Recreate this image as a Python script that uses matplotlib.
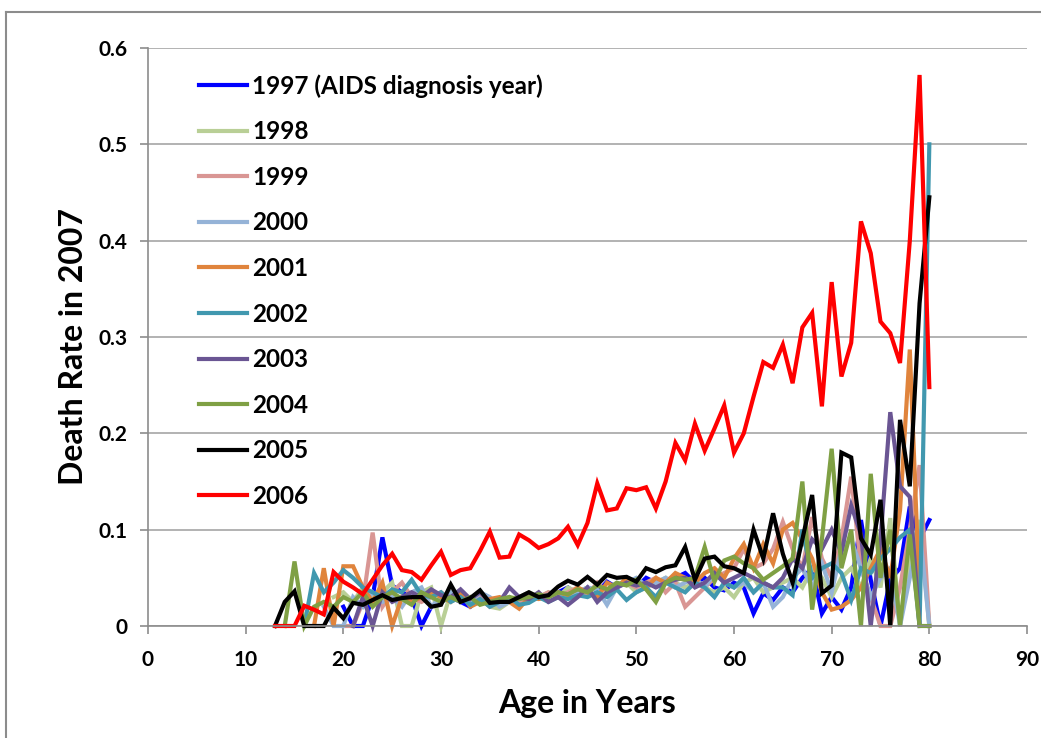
import numpy as np
import matplotlib
matplotlib.use("Agg")
import matplotlib.pyplot as plt
from matplotlib.lines import Line2D

plt.rcParams['font.family'] = ['Lato', 'DejaVu Sans']
plt.rcParams['font.weight'] = 'bold'

# Data: death rate in 2007 by age, one series per AIDS diagnosis year
labels = ["1997 (AIDS diagnosis year)", "1998", "1999", "2000", "2001",
          "2002", "2003", "2004", "2005", "2006"]
colors = ["#0000FF", "#B9CF96", "#D99694", "#95B3D7", "#E0843C",
          "#4198AF", "#6A5593", "#7FA044", "#000000", "#FF0000"]
start_ages = [20, 19, 20, 18, 17, 16, 21, 14, 13, 13]

rate_1997 = [0.02, 0.0, 0.0, 0.03, 0.092, 0.042, 0.035, 0.03, 0.0, 0.02,
             0.025, 0.03, 0.025, 0.02, 0.03, 0.025, 0.028, 0.025, 0.03, 0.028,
             0.03, 0.032, 0.035, 0.04, 0.032, 0.04, 0.035, 0.046, 0.04, 0.045,
             0.04, 0.05, 0.045, 0.048, 0.05, 0.055, 0.045, 0.05, 0.04, 0.037,
             0.045, 0.04, 0.013, 0.034, 0.027, 0.04, 0.035, 0.05, 0.06, 0.013,
             0.03, 0.017, 0.04, 0.11, 0.048, 0.0, 0.048, 0.06, 0.124, 0.09,
             0.11]
rate_1998 = [0.03, 0.035, 0.025, 0.04, 0.03, 0.035, 0.045, 0.0, 0.0, 0.035,
             0.04, 0.0, 0.035, 0.03, 0.025, 0.03, 0.02, 0.018, 0.025, 0.03,
             0.035, 0.03, 0.035, 0.03, 0.04, 0.035, 0.04, 0.03, 0.035, 0.04,
             0.045, 0.035, 0.04, 0.045, 0.05, 0.045, 0.04, 0.045, 0.04, 0.035,
             0.04, 0.03, 0.045, 0.05, 0.035, 0.04, 0.045, 0.05, 0.04, 0.06,
             0.05, 0.03, 0.05, 0.06, 0.04, 0.07, 0.04, 0.112, 0.0, 0.07,
             0.11, 0.0]
rate_1999 = [0.0, 0.0, 0.025, 0.097, 0.02, 0.035, 0.045, 0.03, 0.025, 0.03,
             0.035, 0.028, 0.03, 0.025, 0.03, 0.02, 0.025, 0.03, 0.025, 0.032,
             0.03, 0.035, 0.03, 0.035, 0.04, 0.032, 0.045, 0.035, 0.04, 0.045,
             0.04, 0.045, 0.05, 0.035, 0.045, 0.02, 0.03, 0.04, 0.05, 0.055,
             0.06, 0.08, 0.06, 0.065, 0.08, 0.108, 0.08, 0.06, 0.113, 0.07,
             0.05, 0.09, 0.155, 0.06, 0.03, 0.0, 0.0, 0.04, 0.1, 0.167,
             0.0]
rate_2000 = [0.02, 0.0, 0.0, 0.03, 0.02, 0.035, 0.025, 0.03, 0.02, 0.035,
             0.04, 0.02, 0.03, 0.035, 0.03, 0.025, 0.035, 0.03, 0.02, 0.025,
             0.03, 0.028, 0.03, 0.032, 0.035, 0.03, 0.035, 0.04, 0.038, 0.022,
             0.04, 0.045, 0.05, 0.042, 0.045, 0.05, 0.04, 0.045, 0.05, 0.04,
             0.055, 0.045, 0.04, 0.045, 0.035, 0.045, 0.02, 0.03, 0.05, 0.06,
             0.04, 0.065, 0.035, 0.08, 0.09, 0.06, 0.03, 0.05, 0.06, 0.0,
             0.05, 0.1, 0.0]
rate_2001 = [0.0, 0.06, 0.0, 0.062, 0.062, 0.04, 0.025, 0.045, 0.0, 0.03,
             0.025, 0.03, 0.035, 0.03, 0.025, 0.035, 0.02, 0.025, 0.028, 0.03,
             0.025, 0.018, 0.03, 0.028, 0.03, 0.035, 0.032, 0.04, 0.035, 0.03,
             0.045, 0.04, 0.05, 0.045, 0.04, 0.05, 0.045, 0.055, 0.05, 0.045,
             0.055, 0.06, 0.05, 0.07, 0.085, 0.06, 0.085, 0.065, 0.1, 0.107,
             0.09, 0.07, 0.035, 0.017, 0.02, 0.027, 0.04, 0.06, 0.08, 0.05,
             0.12, 0.287, 0.03]
rate_2002 = [0.0, 0.055, 0.035, 0.045, 0.058, 0.05, 0.04, 0.035, 0.03, 0.038,
             0.035, 0.048, 0.032, 0.03, 0.035, 0.025, 0.03, 0.022, 0.028, 0.02,
             0.025, 0.03, 0.022, 0.024, 0.03, 0.025, 0.03, 0.028, 0.032, 0.03,
             0.035, 0.03, 0.038, 0.027, 0.035, 0.04, 0.03, 0.045, 0.04, 0.035,
             0.045, 0.04, 0.03, 0.045, 0.04, 0.05, 0.035, 0.045, 0.04, 0.04,
             0.032, 0.1, 0.05, 0.06, 0.065, 0.055, 0.027, 0.06, 0.055, 0.07,
             0.08, 0.092, 0.1, 0.0, 0.5]
rate_2003 = [0.0, 0.03, 0.0, 0.035, 0.025, 0.03, 0.035, 0.03, 0.038, 0.032,
             0.03, 0.038, 0.028, 0.035, 0.025, 0.025, 0.04, 0.03, 0.028, 0.035,
             0.025, 0.03, 0.022, 0.03, 0.04, 0.025, 0.035, 0.04, 0.045, 0.042,
             0.045, 0.04, 0.045, 0.048, 0.05, 0.04, 0.045, 0.055, 0.045, 0.05,
             0.055, 0.05, 0.045, 0.04, 0.05, 0.07, 0.06, 0.09, 0.08, 0.1,
             0.076, 0.125, 0.095, 0.0, 0.09, 0.222, 0.145, 0.134, 0.0]
rate_2004 = [0.0, 0.067, 0.0, 0.02, 0.025, 0.02, 0.03, 0.025, 0.035, 0.02,
             0.03, 0.035, 0.028, 0.022, 0.035, 0.03, 0.025, 0.03, 0.025, 0.03,
             0.022, 0.025, 0.028, 0.03, 0.028, 0.03, 0.033, 0.03, 0.035, 0.033,
             0.038, 0.035, 0.042, 0.038, 0.045, 0.042, 0.048, 0.038, 0.025, 0.045,
             0.05, 0.048, 0.05, 0.082, 0.046, 0.068, 0.072, 0.065, 0.06, 0.048,
             0.055, 0.062, 0.07, 0.15, 0.017, 0.09, 0.184, 0.06, 0.1, 0.0,
             0.158, 0.05, 0.1, 0.0, 0.095, 0.0, 0.0]
rate_2005 = [0.0, 0.025, 0.036, 0.0, 0.0, 0.0, 0.019, 0.008, 0.024, 0.022,
             0.027, 0.032, 0.027, 0.029, 0.03, 0.03, 0.02, 0.022, 0.043, 0.025,
             0.029, 0.037, 0.024, 0.025, 0.025, 0.03, 0.035, 0.03, 0.032, 0.041,
             0.047, 0.043, 0.051, 0.043, 0.053, 0.05, 0.051, 0.046, 0.06, 0.056,
             0.061, 0.063, 0.082, 0.048, 0.07, 0.072, 0.062, 0.06, 0.055, 0.1,
             0.07, 0.117, 0.075, 0.045, 0.09, 0.136, 0.034, 0.042, 0.18, 0.175,
             0.091, 0.074, 0.131, 0.0, 0.214, 0.145, 0.335, 0.445]
rate_2006 = [0.0, 0.0, 0.0, 0.021, 0.017, 0.012, 0.056, 0.046, 0.04, 0.033,
             0.048, 0.063, 0.075, 0.058, 0.056, 0.048, 0.063, 0.077, 0.053, 0.058,
             0.06, 0.078, 0.098, 0.071, 0.072, 0.095, 0.089, 0.081, 0.085, 0.091,
             0.103, 0.084, 0.107, 0.148, 0.12, 0.122, 0.143, 0.141, 0.144, 0.122,
             0.15, 0.19, 0.172, 0.21, 0.182, 0.205, 0.229, 0.18, 0.2, 0.238,
             0.274, 0.268, 0.292, 0.252, 0.31, 0.325, 0.228, 0.357, 0.259, 0.294,
             0.42, 0.387, 0.316, 0.304, 0.273, 0.40, 0.572, 0.248]

series = [rate_1997, rate_1998, rate_1999, rate_2000, rate_2001,
          rate_2002, rate_2003, rate_2004, rate_2005, rate_2006]

fig = plt.figure(figsize=(10.41, 7.38), dpi=100)
ax = fig.add_axes([148 / 1041, 1 - 626 / 738, (1027 - 148) / 1041, (626 - 48) / 738])

for vals, start, lab, col in zip(series, start_ages, labels, colors):
    ages = np.arange(start, start + len(vals))
    ax.plot(ages, vals, color=col, linewidth=3.0, label=lab,
            solid_joinstyle='miter', clip_on=False)

ax.set_xlim(0, 90)
ax.set_ylim(0, 0.6)
ax.set_xticks(np.arange(0, 91, 10))
ax.set_yticks(np.arange(0, 0.61, 0.1))
ax.set_yticklabels(["0", "0.1", "0.2", "0.3", "0.4", "0.5", "0.6"])

ax.grid(True, axis='y', color='#A6A6A6', linewidth=1.2)
ax.set_axisbelow(True)
for s in ['top', 'right']:
    ax.spines[s].set_visible(False)
for s in ['left', 'bottom']:
    ax.spines[s].set_color('#8C8C8C')
    ax.spines[s].set_linewidth(1.2)
ax.tick_params(axis='both', colors='#8C8C8C', length=6, width=1.2,
               labelsize=15, labelcolor='black')
ax.tick_params(axis='x', pad=11)
ax.tick_params(axis='y', pad=9)

ax.set_xlabel("Age in Years", fontsize=23, fontweight='bold', labelpad=14)
ax.set_ylabel("Death Rate in 2007", fontsize=23, fontweight='bold')
ax.yaxis.set_label_coords(-0.068, 0.483)

ax.legend(loc='upper left', bbox_to_anchor=(0.033, 0.993), frameon=False,
          fontsize=17.5, handlelength=2.0, handletextpad=0.2,
          labelspacing=0.93)

# outer chart border (top and left edges visible)
fig.add_artist(Line2D([6 / 1041, 6 / 1041], [0, 1 - 12 / 738],
                      transform=fig.transFigure, color='#8C8C8C', linewidth=1.5))
fig.add_artist(Line2D([6 / 1041, 1], [1 - 12 / 738, 1 - 12 / 738],
                      transform=fig.transFigure, color='#8C8C8C', linewidth=1.5))

fig.savefig("out.png", dpi=100)
